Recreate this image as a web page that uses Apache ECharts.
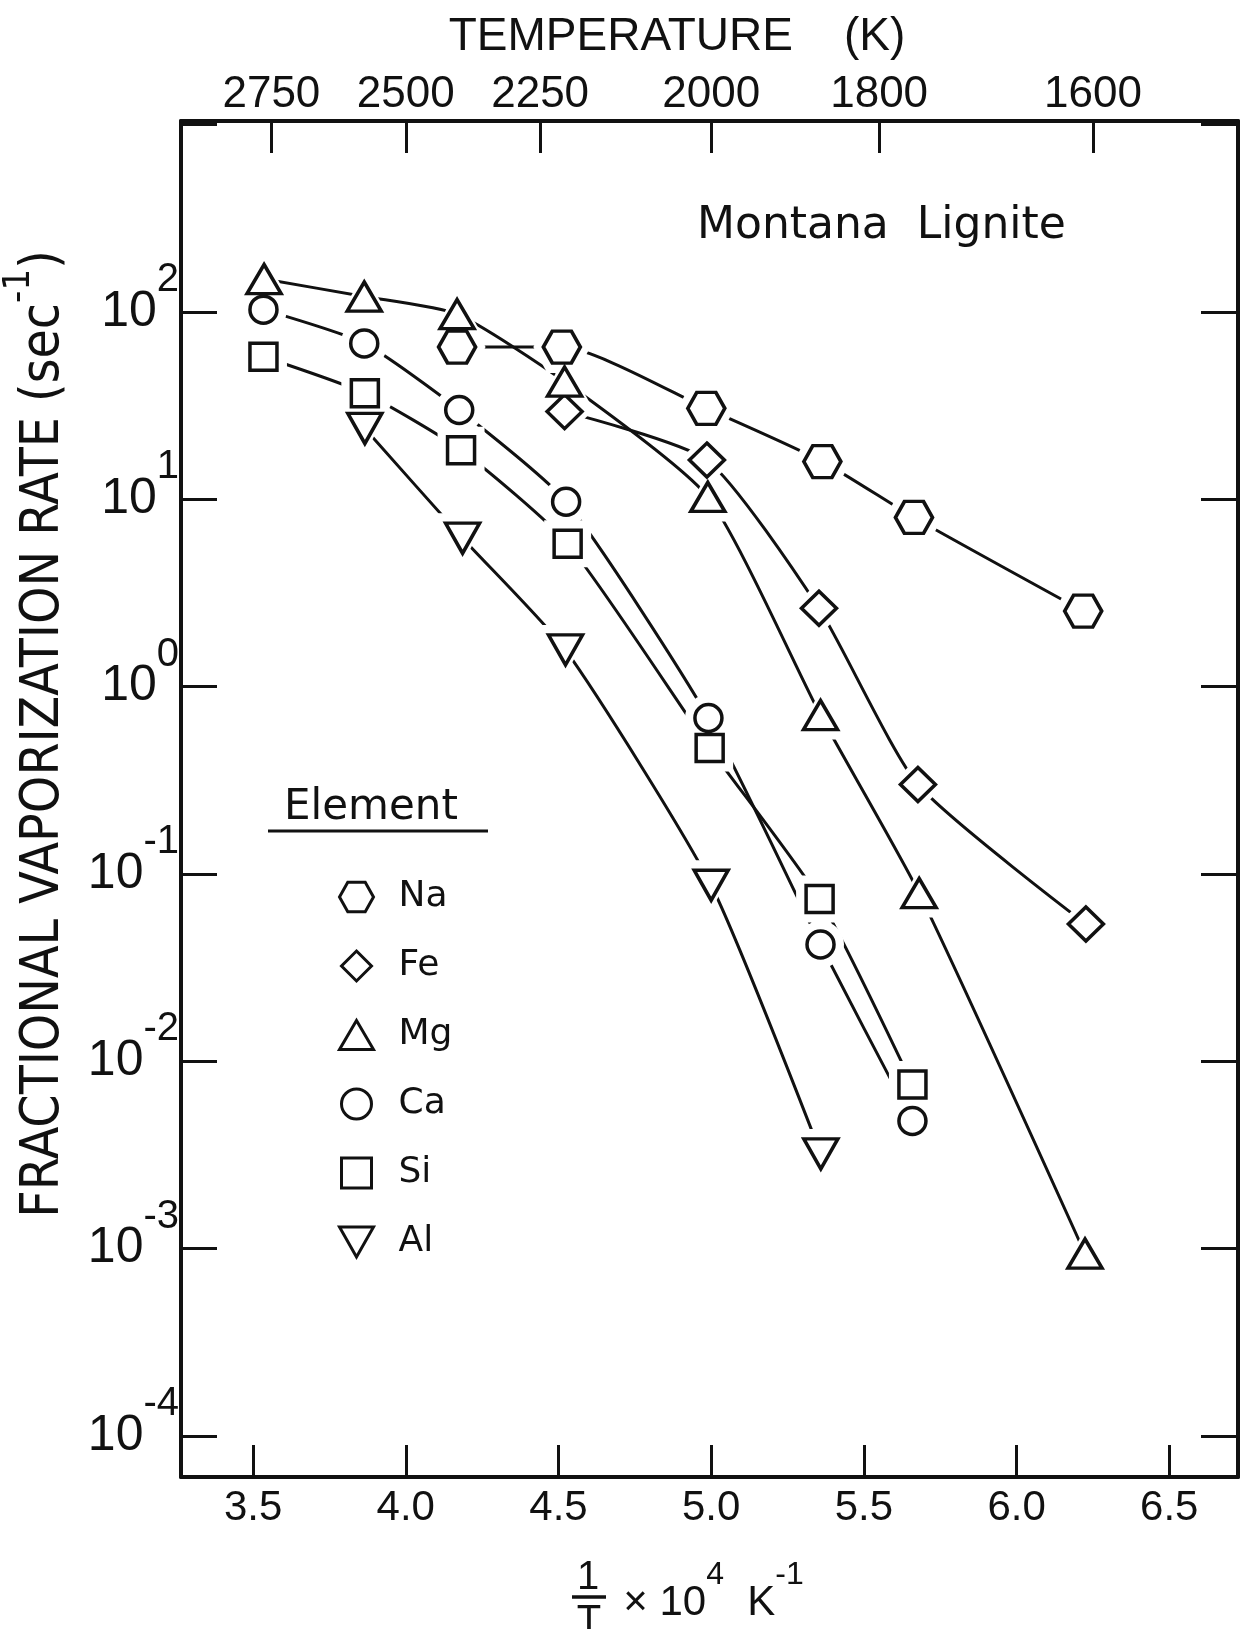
<!DOCTYPE html>
<html>
<head>
<meta charset="utf-8">
<title>Montana Lignite – fractional vaporization rate</title>
<script src="https://cdn.jsdelivr.net/npm/echarts@6/dist/echarts.min.js"></script>
<style>
  html, body { margin: 0; padding: 0; background: #fff; }
  #chart { width: 1247px; height: 1629px; }
</style>
</head>
<body>
<div id="chart"></div>
<script>
// Inverse temperature (1/T x 10^4, K^-1) and fractional vaporization rate (s^-1)
const naInvT = [4.168, 4.511, 4.984, 5.364, 5.664, 6.218];
const naRate = [65, 65, 30.6, 15.9, 8.0, 2.53];

const feInvT = [4.520, 4.986, 5.353, 5.677, 6.227];
const feRate = [29.4, 16.2, 2.62, 0.30, 0.054];

const mgInvT = [3.536, 3.864, 4.168, 4.520, 4.989, 5.358, 5.681, 6.224];
const mgRate = [150, 121, 97.5, 42.5, 10.3, 0.705, 0.079, 0.00094];

const caInvT = [3.534, 3.864, 4.175, 4.525, 4.991, 5.358, 5.659];
const caRate = [103, 68, 30.0, 9.7, 0.68, 0.042, 0.0048];

const siInvT = [3.534, 3.866, 4.181, 4.530, 4.995, 5.355, 5.659];
const siRate = [57.7, 36.8, 18.3, 5.8, 0.47, 0.0735, 0.0075];

const alInvT = [3.866, 4.186, 4.523, 5.000, 5.359];
const alRate = [23.9, 6.2, 1.57, 0.087, 0.0032];

// Axis ticks
const invTTicks = [3.5, 4.0, 4.5, 5.0, 5.5, 6.0, 6.5];
const tempLabels = ['2750', '2500', '2250', '2000', '1800', '1600'];
const tempTickPos = [3.56, 4.0, 4.44, 5.0, 5.55, 6.25];
const labelledDecades = [-4, -3, -2, -1, 0, 1, 2];

const INK = '#111';
const SANS = '"Liberation Sans", Arial, sans-serif';
const NARROW = '"Liberation Sans Narrow", "DejaVu Sans Condensed", "Liberation Sans", sans-serif';
const ROUND = '"DejaVu Sans", "Noto Sans", sans-serif';

// Hollow marker shapes
const HEXAGON = 'path://M0,16L9,0H28L37,16L28,32H9Z';
const DIAMOND = 'path://M17,0L34,17L17,34L0,17Z';
const TRIANGLE = 'path://M17,0L34,29H0Z';
const SQUARE = 'path://M0,0H27V27H0Z';
const DOWN_TRIANGLE = 'path://M0,0H34L17,30Z';

const elements = [
  { name: 'Na', invT: naInvT, rate: naRate, symbol: HEXAGON, size: [37, 32] },
  { name: 'Fe', invT: feInvT, rate: feRate, symbol: DIAMOND, size: [35, 34] },
  { name: 'Mg', invT: mgInvT, rate: mgRate, symbol: TRIANGLE, size: [34, 29] },
  { name: 'Ca', invT: caInvT, rate: caRate, symbol: 'circle', size: [27, 27] },
  { name: 'Si', invT: siInvT, rate: siRate, symbol: SQUARE, size: [27, 27] },
  { name: 'Al', invT: alInvT, rate: alRate, symbol: DOWN_TRIANGLE, size: [34, 30] }
];

const pairs = (xs, ys) => xs.map((x, i) => [x, ys[i]]);
const grow = (s, d) => [s[0] + d, s[1] + d];

const series = [];
// fitted curves
elements.forEach(el => series.push({
  type: 'line', name: el.name + ' curve', data: pairs(el.invT, el.rate),
  smooth: 0.2, symbol: 'none', silent: true, z: 2,
  lineStyle: { color: INK, width: 3 }
}));
// white halos leave a gap in the curves around each marker
elements.forEach(el => series.push({
  type: 'scatter', name: el.name + ' gap', data: pairs(el.invT, el.rate),
  symbol: el.symbol, symbolSize: grow(el.size, 20), silent: true, z: 3,
  itemStyle: { color: '#fff', borderWidth: 0, opacity: 1 }
}));
// hollow markers
elements.forEach(el => series.push({
  type: 'scatter', name: el.name, data: pairs(el.invT, el.rate),
  symbol: el.symbol, symbolSize: el.size, z: 4,
  itemStyle: { color: '#fff', borderColor: INK, borderWidth: 3.5, opacity: 1 }
}));

const yMin = Math.pow(10, -4.22);
const yMax = Math.pow(10, 3.02);
const xMin = 3.264;
const xMax = 6.725;

function decadeLabel(v) {
  const e = Math.log10(v);
  const r = Math.round(e);
  if (Math.abs(e - r) > 1e-6 || labelledDecades.indexOf(r) < 0) return '';
  return '{b|10}{s|' + (r < 0 ? '-' + (-r) : r) + '}';
}

const frame = { lineStyle: { color: INK, width: 4 } };

const option = {
  animation: false,
  backgroundColor: '#fff',
  grid: { left: 181, right: 9, top: 121, bottom: 152, containLabel: false, outerBoundsMode: 'none' },
  xAxis: [
    {
      type: 'value', position: 'bottom', min: xMin, max: xMax,
      axisLine: frame, splitLine: { show: false },
      axisTick: { inside: true, length: 32, customValues: invTTicks, lineStyle: { color: INK, width: 3 } },
      axisLabel: {
        customValues: invTTicks, margin: 10, color: INK,
        fontFamily: SANS, fontSize: 42,
        formatter: v => v.toFixed(1)
      },
      name: '× 10{s|4}  K{s|-1}', nameLocation: 'middle', nameGap: 82,
      nameTextStyle: {
        color: INK, fontFamily: SANS, fontSize: 42, padding: [0, 0, 0, 8],
        rich: { s: { fontFamily: SANS, fontSize: 32, color: INK, verticalAlign: 'middle', padding: [0, 0, 56, 0] } }
      }
    },
    {
      type: 'value', position: 'top', min: xMin, max: xMax,
      axisLine: frame, splitLine: { show: false },
      axisTick: { inside: true, length: 32, customValues: tempTickPos, lineStyle: { color: INK, width: 3 } },
      axisLabel: {
        customValues: tempTickPos, margin: 4, color: INK,
        fontFamily: SANS, fontSize: 44,
        formatter: v => {
          const i = tempTickPos.findIndex(p => Math.abs(p - v) < 1e-6);
          return i >= 0 ? tempLabels[i] : '';
        }
      }
    }
  ],
  yAxis: [
    {
      type: 'log', position: 'left', min: yMin, max: yMax, splitNumber: 8,
      axisLine: frame, splitLine: { show: false }, minorTick: { show: false },
      axisTick: { inside: true, length: 36, lineStyle: { color: INK, width: 3 } },
      axisLabel: {
        margin: 2, color: INK, formatter: decadeLabel,
        rich: {
          b: { fontFamily: SANS, fontSize: 50, lineHeight: 50, color: INK, verticalAlign: 'middle', padding: [0, 0, 0, 0] },
          s: { fontFamily: SANS, fontSize: 40, lineHeight: 40, color: INK, verticalAlign: 'middle', padding: [0, 0, 64, 0] }
        }
      },
      name: 'FRACTIONAL VAPORIZATION RATE (sec{s|-1})',
      nameLocation: 'middle', nameRotate: 90, nameGap: 93,
      nameTextStyle: {
        color: INK, fontFamily: NARROW, fontSize: 53, padding: [0, 0, 0, 130],
        rich: { s: { fontFamily: NARROW, fontSize: 38, color: INK, verticalAlign: 'middle', padding: [0, 0, 50, 0] } }
      }
    },
    {
      type: 'log', position: 'right', min: yMin, max: yMax, splitNumber: 8,
      axisLine: frame, splitLine: { show: false }, minorTick: { show: false },
      axisTick: { inside: true, length: 37, lineStyle: { color: INK, width: 3 } },
      axisLabel: { show: false }
    }
  ],
  legend: {
    orient: 'vertical', left: 333, top: 872,
    itemWidth: 34, itemHeight: 30, itemGap: 29, selectedMode: false,
    symbolKeepAspect: true,
    data: elements.map(e => e.name),
    itemStyle: { color: '#fff', borderColor: INK, borderWidth: 3, opacity: 1 },
    textStyle: { color: INK, fontFamily: ROUND, fontSize: 36, lineHeight: 40, padding: [0, 0, 0, 20] }
  },
  graphic: [
    {
      type: 'text', x: 677, y: 37, silent: true,
      style: { text: 'TEMPERATURE    (K)', fill: INK, font: '46px ' + SANS, textAlign: 'center', textVerticalAlign: 'middle', align: 'center', verticalAlign: 'middle' }
    },
    {
      type: 'text', x: 697, y: 227, silent: true,
      style: { text: 'Montana  Lignite', fill: INK, font: '44px ' + ROUND, textAlign: 'left', textVerticalAlign: 'middle', align: 'left', verticalAlign: 'middle' }
    },
    {
      type: 'text', x: 284, y: 808, silent: true,
      style: { text: 'Element', fill: INK, font: '42px ' + ROUND, textAlign: 'left', textVerticalAlign: 'middle', align: 'left', verticalAlign: 'middle' }
    },
    {
      type: 'line', silent: true,
      shape: { x1: 268, y1: 831, x2: 488, y2: 831 },
      style: { stroke: INK, lineWidth: 3 }
    },
    {
      type: 'text', x: 588, y: 1578, silent: true,
      style: { text: '1', fill: INK, font: '40px ' + SANS, textAlign: 'center', textVerticalAlign: 'middle', align: 'center', verticalAlign: 'middle' }
    },
    {
      type: 'line', silent: true,
      shape: { x1: 572, y1: 1597, x2: 606, y2: 1597 },
      style: { stroke: INK, lineWidth: 3.5 }
    },
    {
      type: 'text', x: 589, y: 1622, silent: true,
      style: { text: 'T', fill: INK, font: '40px ' + SANS, textAlign: 'center', textVerticalAlign: 'middle', align: 'center', verticalAlign: 'middle' }
    }
  ],
  series: series
};

const chart = echarts.init(document.getElementById('chart'), null, { renderer: 'canvas' });
chart.setOption(option);
</script>
</body>
</html>
